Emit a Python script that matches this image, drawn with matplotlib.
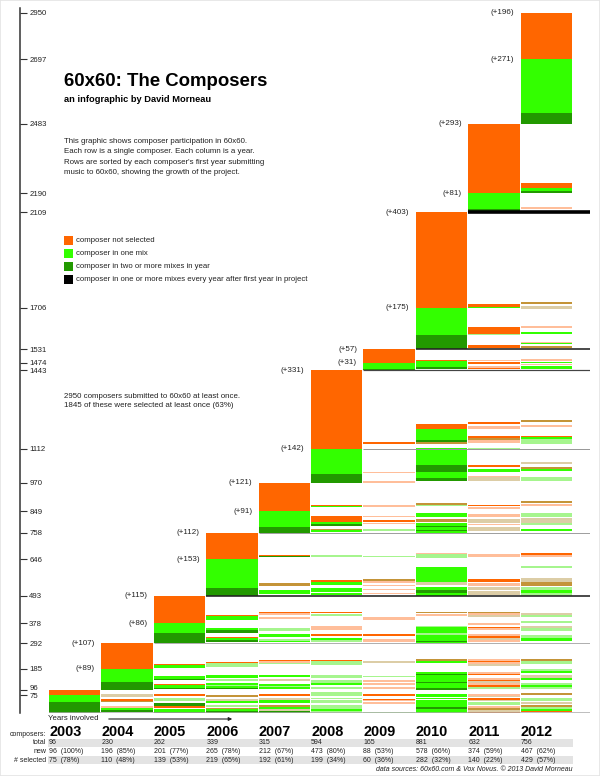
import re
import numpy as np
import matplotlib
matplotlib.use("Agg")
import matplotlib.pyplot as plt
from matplotlib.patches import Rectangle, FancyArrowPatch
from matplotlib.transforms import ScaledTranslation

plt.rcParams['font.family'] = ['Liberation Sans', 'DejaVu Sans']

# ---------------- data ----------------
years = [2003, 2004, 2005, 2006, 2007, 2008, 2009, 2010, 2011, 2012]
total_composers = [96, 230, 262, 339, 315, 594, 165, 881, 632, 756]
new_composers = [96, 196, 201, 265, 212, 473, 88, 578, 374, 467]
selected_composers = [75, 110, 139, 219, 192, 199, 60, 282, 140, 429]

# first-year breakdown of each cohort (bottom to top)
first_dark = [47, 35, 45, 31, 23, 38, 5, 62, 12, 43]       # two or more mixes
first_light = [28, 54, 41, 122, 68, 104, 26, 113, 69, 228]  # one mix
first_orange = [21, 107, 115, 112, 121, 331, 57, 403, 293, 196]  # not selected

tick_values = [75, 96, 185, 292, 378, 493, 646, 758, 849, 970, 1112, 1443,
               1474, 1531, 1706, 2109, 2190, 2483, 2754, 2950]
tick_labels = ['75', '96', '185', '292', '378', '493', '646', '758', '849',
               '970', '1112', '1443', '1474', '1531', '1706', '2109', '2190',
               '2483', '2697', '2950']

# rows of composers in a mix every year after their first year
every_year_at = [0, 292, 493, 758, 1112, 1443, 1531, 2109]
every_year_from = [2003, 2005, 2006, 2007, 2009, 2009, 2010, 2011]

composers_all = 2950
selected_once = 1845

# later-year participation of each cohort, one run-length string per later
# year, read top to bottom: count + code ('.' none, O not selected,
# o faint not selected, G one mix, g faint one mix, D two+ mixes,
# K mixed, k faint mixed)
stripes_2003 = [
    "4. 3k 2. 2O 1K 4. 2o 2G 2D 1.",
    "4. 2O 3. 3g 2. 3D 2O 1. 3G 1D",
    "5. 2K 3. 2k 2G 2. 2g 1. 1K 2G 2D",
    "4. 2O 3. 2k 3G 2. 2K 2G 2k 2D",
    "2. 4g 2. 2g 1. 3g 2. 4g 2G 2g",
    "4. 2O 4. 1O 1o 1. 2o 8. 1g",
    "4. 3G 1. 2G 1. 7G 2D 4G",
    "4. 2o 1k 2. 2O 1k 1. 3g 1. 2o 2K 2k 1O",
    "3. 3K 3. 3g 1. 3k 1. 2K 2g 2G 1O 1.",
]
stripes_2004 = [
    "20. 1O 3G 8. 3G 1D 4. 1O 3G 1D 1.",
    "18. 1O 4g 8. 2G 1. 2g 2. 2G 1g 2G 1D 1.",
    "16. 1O 2o 1g 11. 2G 2. 2k 3. 2G 1g 2G 1.",
    "16. 1O 4g 10. 2g 2. 3g 2G 2. 2g 1.",
    "17. 2k 13. 1g 3. 2o 1. 2o 2. 2o 1.",
    "15. 2K 2G 9. 2G 1D 6G 1D 5G 2D",
    "15. 2o 1O 2o 2k 6. 2o 1O 2. 2o 1O 2k 2o 2O 2g 1.",
    "15. 2K 3g 5. 2g 2G 2. 2k 2G 3. 2g 2G 2g 1.",
]
stripes_2005 = [
    "21. 1O 4G 9. 2G 3D 4. 1O 2G 3D 1.",
    "17. 2O 2o 2. 2o 10. 3g 3. 3G 2. 2g 2G 1.",
    "17. 2O 1. 2g 10. 2o 1. 2o 4. 2O 2. 2G 2g 2.",
    "23. 3o 15. 2O 3. 3o 2.",
    "17. 2K 1. 2o 10. 1g 7G 2g 6G 2D 1G",
    "17. 2K 2o 2k 6. 2o 2. 2O 2o 4. 2o 2O 2k 2o 2.",
    "19. 2k 2g 4. 2g 3. 3k 3g 4. 3g 3G 3.",
]
stripes_2006 = [
    "21. 1O 1D 24. 3K 4. 3G 2.",
    "21. 2g 22. 2O 3G 3. 3G 1. 2G 1.",
    "22. 1g 21. 2K 2o 2. 1o 3. 1o 2. 1o 2.",
    "19. 1o 4g 8. 14G 3k 2. 3G 2D 3G",
    "20. 3o 20. 3O 1. 3o 1. 3k 1. 3k 1.",
    "19. 2O 2o 8. 2g 9. 4k 4K 1. 3g 2G 3g",
]
stripes_2007 = [
    "26. 2O 1G 10. 7O 3G 2D 3. 2K 2G 1.",
    "26. 3o 10. 1o 4. 2O 2. 1o 5. 3g 2.",
    "24. 2K 2g 8. 4G 3. 3K 1. 4G 1D 4G 1D 2G",
    "26. 2O 1. 2o 6. 3o 3. 4k 2. 1o 2. 5k 2.",
    "22. 2K 1. 3o 8. 4g 2. 5k 1. 2g 5. 2G 2.",
]
stripes_2008 = [
    "66. 2O 25. 1o 8. 1o",
    "49. 5O 10G 2D 2K 3. 16G 6D 6G 3D 1.",
    "48. 2O 2. 2o 7. 2O 2K 2o 5. 1g 15. 2O 1. 3G 4. 1o 4k 1.",
    "46. 2K 3. 2o 8. 1O 2G 4g 17. 2k 3. 1K 2G 6. 4g 1.",
]
stripes_2009 = [
    "10. 1O 6G 2D 1.",
    "10. 1o 1. 2O 2. 2o 1O 1.",
    "10. 2o 1. 1G 1. 1o 1. 3G 1.",
]
stripes_2010 = [
    "92. 3O 1G 19. 7O 1g 10. 3O 1.",
    "90. 2K 2. 3k 17. 2o 4. 2G 9. 1o 1G 2. 2K 1.",
]
stripes_2011 = [
    "59. 5O 3G 2D 14. 2o 3.",
]

# ---------------- style ----------------
ORANGE = '#FF6600'
GREEN = '#33FF00'
DGREEN = '#229900'
palette = {'O': ORANGE, 'o': '#FFBE9A', 'G': GREEN, 'g': '#A6F58E',
           'D': DGREEN, 'K': '#C49438', 'k': '#DCCDA6'}
line_widths_px = [1.5, 1.0, 1.6, 1.0, 1.0, 1.2, 1.6, 3.6]
line_colors = ['#aaaaaa', '#b0b0b0', '#222222', '#a0a0a0', '#999999',
               '#444444', '#222222', '#000000']
TXT = '#222222'

W, H = 600, 776
def fx(px):
    return px / W
def fy(py):
    return 1 - py / H

fig = plt.figure(figsize=(6, 7.76), dpi=100)
fig.patches.append(Rectangle((0, 0), 1, 1, transform=fig.transFigure,
                             fill=False, edgecolor='#e4e4e4', lw=1.2))

COL0, PITCH = 49.0, 52.4          # px: left of first column, column pitch
AX_L, AX_R = 20.0, 590.0          # px
Y0, PPC = 712.7, 700.0 / 2950     # px of composer 0, px per composer
YTOP = 2968
ax = fig.add_axes([fx(AX_L), fy(Y0), (AX_R - AX_L) / W, YTOP * PPC / H])
xl, xr = (AX_L - COL0) / PITCH, (AX_R - COL0) / PITCH
ax.set_xlim(xl, xr)
ax.set_ylim(0, YTOP)
BW = 0.981

starts = np.concatenate([[0], np.cumsum(new_composers)])

# first-year blocks
for i in range(len(years)):
    b = starts[i]
    for cnt, col in ((first_dark[i], DGREEN), (first_light[i], GREEN),
                     (first_orange[i], ORANGE)):
        ax.bar(i, cnt, bottom=b, width=BW, align='edge', color=col,
               linewidth=0)
        b += cnt

# later-year stripes
all_stripes = [stripes_2003, stripes_2004, stripes_2005, stripes_2006,
               stripes_2007, stripes_2008, stripes_2009, stripes_2010,
               stripes_2011]
for c, cells in enumerate(all_stripes):
    top = starts[c + 1]
    size = new_composers[c]
    for k, cell in enumerate(cells):
        col = c + 1 + k
        runs = [(float(n), code) for n, code in re.findall(r'(\d+)(\S)', cell)]
        tot = sum(n for n, _ in runs)
        y = top
        for n, code in runs:
            h = n / tot * size
            y -= h
            if code != '.':
                ax.bar(col, h, bottom=y, width=BW, align='edge',
                       color=palette[code], linewidth=0)

# every-year lines
for yv, yr, lw, lc in zip(every_year_at, every_year_from, line_widths_px,
                          line_colors):
    ax.hlines(yv, years.index(yr), xr, colors=lc, linewidth=lw * 0.72,
              zorder=3)

# segment count labels
for i in range(1, len(years)):
    sel = first_dark[i] + first_light[i]
    for txt, yv in ((f'(+{sel})', starts[i] + sel),
                    (f'(+{first_orange[i]})', starts[i + 1])):
        ax.annotate(txt, xy=(i, yv), xytext=(-4.6, 0),
                    textcoords='offset points', ha='right', va='center',
                    fontsize=5.8, color=TXT)

# axis styling
for s in ('top', 'right', 'bottom'):
    ax.spines[s].set_visible(False)
ax.spines['left'].set_color('#333333')
ax.spines['left'].set_linewidth(1.1)
ax.set_xticks([])
ax.set_yticks(tick_values, tick_labels)
ax.tick_params(axis='y', direction='in', length=5.2, width=0.8,
               color='#333333', pad=-6.6, labelsize=5.6, labelcolor=TXT)
label_nudge_px = {'96': 2.4, '75': -0.8}   # keep the two lowest labels apart
for lab in ax.get_yticklabels():
    lab.set_horizontalalignment('left')
    d = label_nudge_px.get(lab.get_text(), 0)
    if d:
        lab.set_transform(lab.get_transform() +
                          ScaledTranslation(0, d / 100, fig.dpi_scale_trans))

# ---------------- texts ----------------
fig.text(fx(64), fy(86.5), '60x60: The Composers', fontsize=13.4,
         fontweight='bold', color='black', va='baseline')
fig.text(fx(64), fy(101.5), 'an infographic by David Morneau', fontsize=6.7,
         fontweight='bold', color='black', va='baseline')
desc = ['This graphic shows composer participation in 60x60.',
        'Each row is a single composer. Each column is a year.',
        "Rows are sorted by each composer's first year submitting",
        'music to 60x60, showing the growth of the project.']
for j, line in enumerate(desc):
    fig.text(fx(64), fy(143 + 10.3 * j), line, fontsize=5.7, color=TXT,
             va='baseline')

legend_items = [('composer not selected', ORANGE),
                ('composer in one mix', GREEN),
                ('composer in two or more mixes in year', DGREEN),
                ('composer in one or more mixes every year after first year in project', 'black')]
for j, (lab, colr) in enumerate(legend_items):
    yc = 240.7 + 12.9 * j
    fig.patches.append(Rectangle((fx(64), fy(yc + 4.3)), 8.6 / W, 8.6 / H,
                                 transform=fig.transFigure, facecolor=colr,
                                 edgecolor='none'))
    fig.text(fx(76), fy(yc), lab, fontsize=5.6, color=TXT, va='center')

pct_once = round(100 * selected_once / composers_all)
fig.text(fx(63.5), fy(396), f'{composers_all} composers submitted to 60x60 at least once.',
         fontsize=5.7, color=TXT, va='center')
fig.text(fx(63.5), fy(405.7), f'{selected_once} of these were selected at least once ({pct_once}%)',
         fontsize=5.7, color=TXT, va='center')

# years involved arrow
fig.text(fx(48.3), fy(718.7), 'Years involved', fontsize=5.6, color=TXT,
         va='center')
fig.add_artist(FancyArrowPatch((fx(106), fy(719)), (fx(235), fy(719)),
                               transform=fig.transFigure, arrowstyle='-|>',
                               mutation_scale=5, lw=0.8, color=TXT))

# table
YR_Y, ROW_Y = 732.0, [743.0, 751.5, 760.0]
fig.text(fx(46), fy(YR_Y + 2), 'composers:', fontsize=5.0, color=TXT,
         ha='right', va='center')
for r in (0, 2):
    fig.patches.append(Rectangle((fx(48), fy(ROW_Y[r] + 3.8)), (573 - 48) / W,
                                 7.6 / H, transform=fig.transFigure,
                                 facecolor='#e3e3e3', edgecolor='none',
                                 zorder=0))
row_names = ['total', 'new', '# selected']
for r, nm in enumerate(row_names):
    fig.text(fx(46), fy(ROW_Y[r]), nm, fontsize=5.0, color=TXT, ha='right',
             va='center')
for i, yr in enumerate(years):
    xp = fx(COL0 + PITCH * i)
    fig.text(xp, fy(YR_Y), str(yr), fontsize=10.4, fontweight='bold',
             color='black', va='center')
    vals = [f'{total_composers[i]}',
            f'{new_composers[i]}  ({round(100 * new_composers[i] / total_composers[i])}%)',
            f'{selected_composers[i]}  ({round(100 * selected_composers[i] / total_composers[i])}%)']
    for r, v in enumerate(vals):
        fig.text(xp, fy(ROW_Y[r]), v, fontsize=5.0, color=TXT, va='center')

fig.text(fx(573), fy(769.5),
         'data sources: 60x60.com & Vox Novus. \u00a9 2013 David Morneau',
         fontsize=5.0, style='italic', color=TXT, ha='right', va='center')

fig.savefig('out.png', dpi=100)
